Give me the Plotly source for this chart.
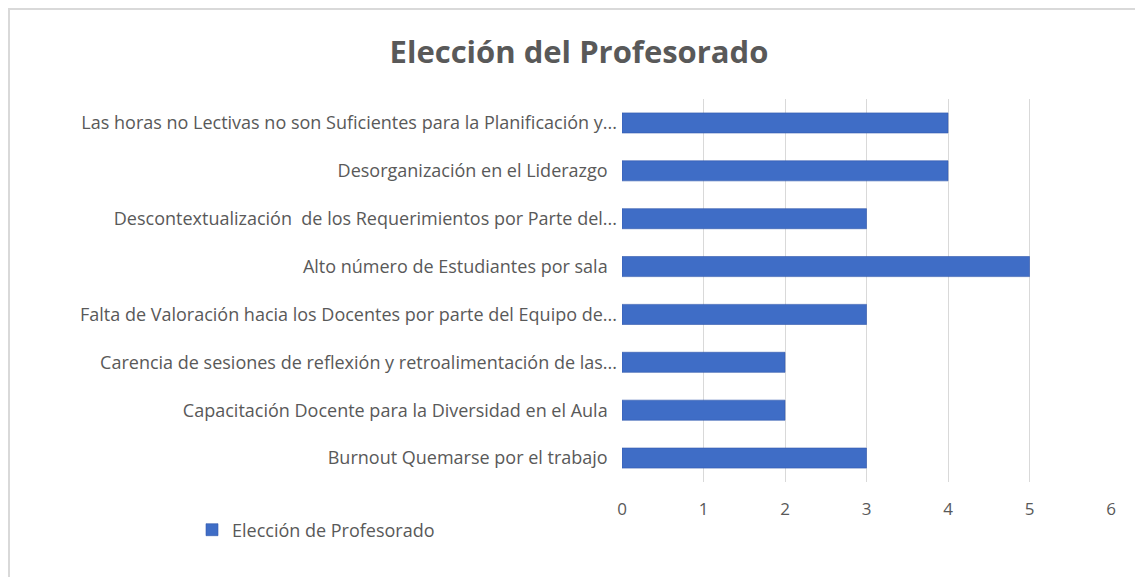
import plotly.graph_objects as go

# The page body adds an 8px margin, so the figure is drawn 8px smaller and
# all pixel positions below are given in page coordinates minus that offset.
OFF = 8
W, H = 1143 - OFF, 577 - OFF

categories = [
    "Las horas no Lectivas no son Suficientes para la Planificación y...",
    "Desorganización en el Liderazgo\u00a0\u00a0",
    "Descontextualización\u00a0 de los Requerimientos por Parte del...",
    "Alto número de Estudiantes por sala\u00a0\u00a0",
    "Falta de Valoración hacia los Docentes por parte del Equipo de...",
    "Carencia de sesiones de reflexión y retroalimentación de las...",
    "Capacitación Docente para la Diversidad en el Aula\u00a0\u00a0",
    "Burnout Quemarse por el trabajo\u00a0\u00a0",
]
values = [4, 4, 3, 5, 3, 2, 2, 3]
series_name = "Elección de Profesorado"
title_text = "Elección del Profesorado"
x_ticks = [0, 1, 2, 3, 4, 5, 6]

# plot area in page pixels
PL, PR, PT, PB = 622 - OFF, 1111 - OFF, 99 - OFF, 482 - OFF

def px_to_paper_x(px):
    return (px - OFF - PL) / (PR - PL)

def px_to_paper_y(py):
    return (PB - (py - OFF)) / (PB - PT)

TEXT = "#595959"
FONT = "Open Sans"

fig = go.Figure()
fig.add_trace(go.Bar(
    y=categories, x=values, orientation="h", name=series_name,
    marker=dict(color="#3F6DC6", line=dict(color="#3259AC", width=0.6)),
    width=0.42, showlegend=True,
))

fig.update_layout(
    width=W, height=H,
    margin=dict(l=PL, r=W - PR, t=PT, b=H - PB, autoexpand=False),
    paper_bgcolor="white", plot_bgcolor="white",
    font=dict(family=FONT, color=TEXT, size=18),
    title=dict(text="<b>" + title_text + "</b>", x=(579 - OFF) / W, xref="container",
               xanchor="center", y=1 - (52 - OFF) / H, yref="container", yanchor="middle",
               font=dict(size=31, color=TEXT, family=FONT)),
    xaxis=dict(range=[0, 6], tickvals=x_ticks, showgrid=True, gridcolor="#d9d9d9",
               gridwidth=1, zeroline=False, showline=False, ticks="",
               tickfont=dict(size=17, color=TEXT), ticklabelstandoff=15,
               fixedrange=True),
    yaxis=dict(autorange="reversed", showgrid=False, zeroline=False, showline=False,
               ticks="", tickfont=dict(size=18, color=TEXT), ticklabelstandoff=4,
               categoryorder="array", categoryarray=categories),
    legend=dict(orientation="h", xref="container", yref="container",
                x=(192 - OFF) / W, xanchor="left", y=1 - (530 - OFF) / H, yanchor="middle",
                font=dict(size=18, color=TEXT), bgcolor="rgba(0,0,0,0)"),
)

# chart frame (outer border)
fig.add_shape(type="rect", xref="paper", yref="paper",
              x0=px_to_paper_x(9), x1=px_to_paper_x(1170),
              y0=px_to_paper_y(620), y1=px_to_paper_y(9),
              line=dict(color="#d9d9d9", width=2), fillcolor="rgba(0,0,0,0)",
              layer="below")

fig.write_html("out.html")
